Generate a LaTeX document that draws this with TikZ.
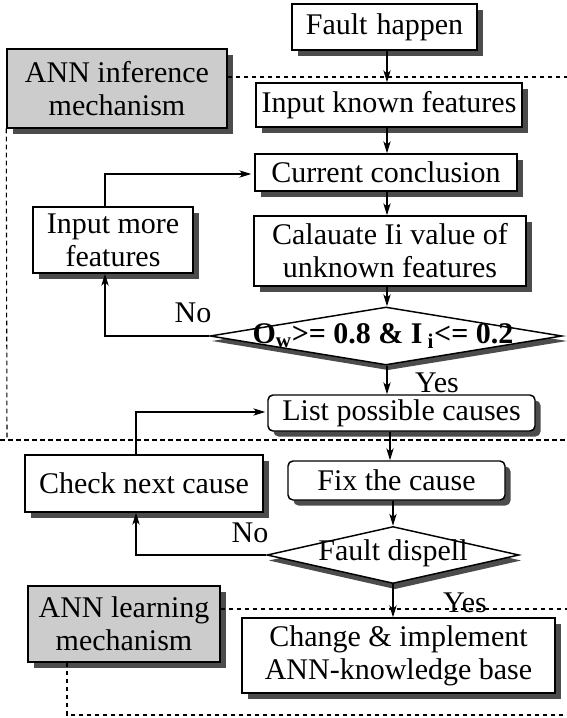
\documentclass[tikz,border=0pt]{standalone}
\usepackage{fontspec}
\setmainfont{Liberation Serif}
\usetikzlibrary{shapes.geometric,arrows.meta}
\newdimen\pxu \pxu=0.75pt
\tikzset{
  base/.style={font=\fontsize{22.5}{24.75}\selectfont, inner sep=0pt, align=center},
  box/.style={base, draw, line width=1.1pt, fill=white},
  rbox/.style={box, rounded corners=5\pxu},
  gbox/.style={box, fill=black!20},
  decision/.style={draw, line width=1.1pt, fill=white, shape=diamond, inner sep=0pt},
  shadowfill/.style={fill=black!70, draw=none},
  arr/.style={line width=1pt, -{Stealth[length=9pt, width=5.5pt, inset=2.5pt]}},
  region/.style={line width=0.8pt, dash pattern=on 3.4pt off 2.6pt},
  lab/.style={base},
}
\begin{document}
\begin{tikzpicture}[x=0.75pt, y=-0.75pt]
\useasboundingbox (0,0) rectangle (567,718);

% offset shadows, drawn first so the boxes cover them
\fill[shadowfill] (297.5,9.5) rectangle (482.5,55.5);            % fault
\fill[shadowfill] (12.5,54.5) rectangle (232.5,133.5);           % ann1
\fill[shadowfill] (261.5,88.5) rectangle (527.5,132.5);          % known
\fill[shadowfill] (260.5,159.5) rectangle (522.5,196.5);         % concl
\fill[shadowfill] (259.5,221.5) rectangle (531.5,291.5);         % calc
\fill[shadowfill] (38.5,212.5) rectangle (198.5,278.5);          % more
\fill[shadowfill] (388,312) -- (567,341) -- (388,370) -- (212,341) -- cycle; % dia1
\fill[shadowfill, rounded corners=5\pxu] (273.5,400.5) rectangle (540.5,436.5); % list
\fill[shadowfill] (30.5,460.5) rectangle (268.5,517.5);          % check
\fill[shadowfill, rounded corners=5\pxu] (293.5,466.5) rectangle (510.5,505.5); % fix
\fill[shadowfill] (395,532) -- (521,560.5) -- (395,589) -- (269,560.5) -- cycle; % dia2
\fill[shadowfill] (33.5,591.5) rectangle (225.5,667.5);          % ann2
\fill[shadowfill] (247.5,623.5) rectangle (560.5,698.5);         % change

% free ends of the dashed region borders
\coordinate (rTop) at (567,77);
\coordinate (rLeftEnd) at (7,438);
\coordinate (rSplitL) at (0,440);
\coordinate (rSplitR) at (567,440);
\coordinate (lTop) at (567,609);
\coordinate (lCorner) at (67,715);
\coordinate (lEnd) at (567,715);

% process boxes
\node[box, minimum width=185\pxu, minimum height=46\pxu] (fault) at (384.5,27) {Fault\hspace{0.3em}happen};
\node[gbox, minimum width=220\pxu, minimum height=79\pxu] (ann1) at (117,88.5) {ANN inference\\mechanism};
\node[box, minimum width=266\pxu, minimum height=44\pxu] (known) at (389,105) {Input known features};
\node[box, minimum width=262\pxu, minimum height=37\pxu] (concl) at (386,172.5) {Current conclusion};
\node[box, minimum width=272\pxu, minimum height=70\pxu] (calc) at (390,251) {Calauate Ii value of\\unknown features};
\node[box, minimum width=160\pxu, minimum height=66\pxu] (more) at (113,240) {Input more\\features};
\node[decision, minimum width=352\pxu, minimum height=58\pxu] (dia1) at (386,336) {};
\node[base] (dia1t) at (383,336) {\textbf{O\textsubscript{w}>= 0.8 \& I\,\textsubscript{i}<= 0.2}};
\node[rbox, minimum width=267\pxu, minimum height=36\pxu] (list) at (401.5,413) {List possible causes};
\node[box, minimum width=238\pxu, minimum height=57\pxu] (check) at (144,483.5) {Check next cause};
\node[rbox, minimum width=217\pxu, minimum height=39\pxu] (fix) at (396.5,480.5) {Fix the cause};
\node[decision, minimum width=252\pxu, minimum height=57\pxu] (dia2) at (393,555) {};
\node[base] (dia2t) at (393,553) {Fault dispell};
\node[gbox, minimum width=192\pxu, minimum height=76\pxu] (ann2) at (124,624) {ANN learning\\mechanism};
\node[box, minimum width=313\pxu, minimum height=75\pxu] (change) at (398.5,655.5) {Change \& implement\\ANN-knowledge base};

% region borders
\draw[region] (ann1.north east |- rTop) -- (rTop);
\draw[region] (ann1.south west) -- (rLeftEnd);
\draw[region] (rSplitL) -- (rSplitR);
\draw[region] (ann2.north east |- lTop) -- (lTop);
\draw[region] (ann2.south -| lCorner) -- (lCorner) -- (lEnd);

% main flow
\coordinate (sA) at (387,0);
\coordinate (sB) at (390,0);
\coordinate (sC) at (393,0);
\draw[arr] (fault.south -| sA) -- (known.north -| sA);
\draw[arr] (known.south -| sA) -- (concl.north -| sA);
\draw[arr] (concl.south -| sA) -- (calc.north -| sA);
\draw[arr] (calc.south -| sA) -- (dia1.north -| sA);
\draw[arr] (dia1.south -| sA) -- (list.north -| sA);
\draw[arr] (list.south -| sB) -- (fix.north -| sB);
\draw[arr] (fix.south -| sC) -- (dia2.north -| sC);
\draw[arr] (dia2.south -| sC) -- (change.north -| sC);

% feedback loops
\coordinate (kMore) at (105,174);
\coordinate (kCheck) at (136,412);
\draw[arr, shorten >=3\pxu] (more.north -| kMore) -- (kMore) -- (concl.west |- kMore);
\draw[arr] (dia1.west) -- (dia1.west -| kMore) -- (more.south -| kMore);
\draw[arr, shorten >=2\pxu] (check.north -| kCheck) -- (kCheck) -- (list.west |- kCheck);
\draw[arr] (dia2.west) -- (dia2.west -| kCheck) -- (check.south -| kCheck);

% branch labels
\node[lab] (no1) at (193,313) {No};
\node[lab] (yes1) at (437,383) {Yes};
\node[lab] (no2) at (250,533) {No};
\node[lab] (yes2) at (465,603) {Yes};
\end{tikzpicture}
\end{document}
